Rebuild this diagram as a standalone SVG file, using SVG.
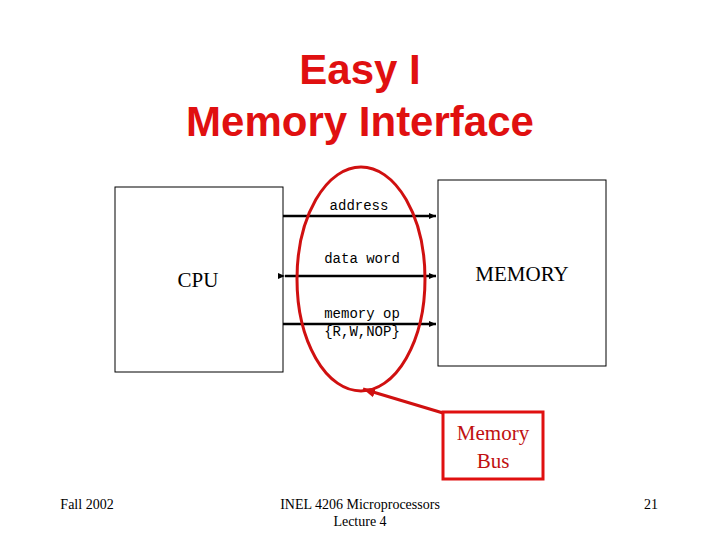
<svg xmlns="http://www.w3.org/2000/svg" width="720" height="540" viewBox="0 0 720 540">
<defs>
<marker id="ah" markerWidth="8" markerHeight="8" refX="7" refY="4" orient="auto" markerUnits="userSpaceOnUse"><path d="M0,1 L7,4 L0,7 z" fill="#000"/></marker>
<marker id="rh" markerWidth="14" markerHeight="14" refX="12" refY="7" orient="auto" markerUnits="userSpaceOnUse"><path d="M0,2 L12,7 L0,12 z" fill="#d01010"/></marker>
</defs>
<style>
.t{font-family:"Liberation Sans",Arial,sans-serif;font-weight:bold;fill:#e01010;font-size:42px;text-anchor:middle}
.m{font-family:"Liberation Mono","Courier New",monospace;font-size:14px;text-anchor:middle}
.s{font-family:"Liberation Serif","Times New Roman",serif;text-anchor:middle}
.box{fill:#fff;stroke:#000;stroke-width:1}
.ln{stroke:#000;stroke-width:2.5;fill:none}
</style>
<rect width="720" height="540" fill="#fff"/>
<text class="t" x="360" y="84">Easy I</text>
<text class="t" x="360" y="136">Memory Interface</text>
<g id="cpu"><rect class="box" x="115" y="187" width="168" height="185"/><text class="s" x="198" y="287" font-size="21">CPU</text></g>
<g id="memory"><rect class="box" x="438" y="180" width="168" height="186"/><text class="s" x="522" y="281" font-size="21">MEMORY</text></g>
<g id="connectors">
<line class="ln" x1="283" y1="216" x2="436" y2="216" marker-end="url(#ah)"/>
<line class="ln" x1="285" y1="276" x2="436" y2="276" marker-end="url(#ah)" marker-start="url(#ah)"/>
<line class="ln" x1="283" y1="324" x2="436" y2="324" marker-end="url(#ah)"/>
<line x1="443" y1="413" x2="363" y2="389" stroke="#d01010" stroke-width="3" marker-end="url(#rh)"/>
</g>
<text class="m" x="359" y="210">address</text>
<text class="m" x="362" y="263">data word</text>
<text class="m" x="362" y="318">memory op</text>
<text class="m" x="362" y="336">{R,W,NOP}</text>
<ellipse cx="361" cy="279" rx="64" ry="112" fill="none" stroke="#d01010" stroke-width="3"/>
<g id="bus"><rect x="443" y="412" width="100" height="67" fill="#fff" stroke="#e01010" stroke-width="3"/><text class="s" x="493" y="440" font-size="21" fill="#c01010">Memory</text><text class="s" x="493" y="468" font-size="21" fill="#c01010">Bus</text></g>
<text class="s" x="87" y="509" font-size="14">Fall 2002</text>
<text class="s" x="360" y="509" font-size="14">INEL 4206 Microprocessors</text>
<text class="s" x="360" y="526" font-size="14">Lecture 4</text>
<text class="s" x="651" y="509" font-size="14">21</text>
</svg>
